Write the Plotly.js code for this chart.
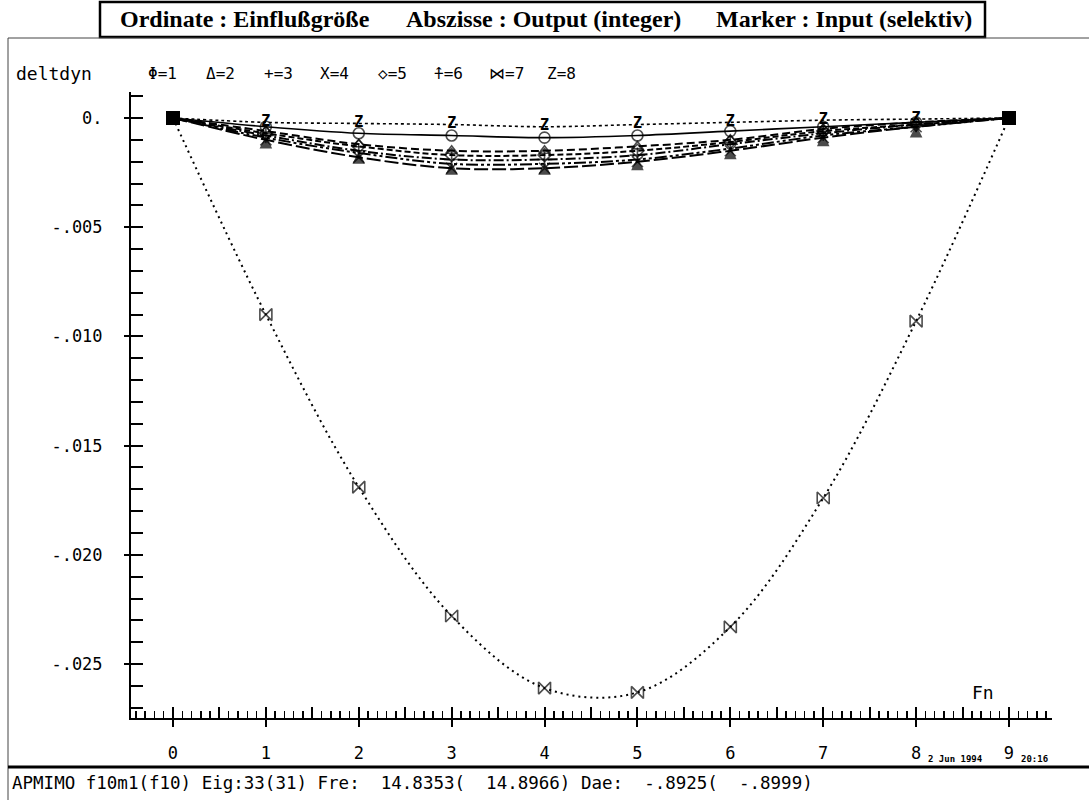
<!DOCTYPE html>
<html>
<head>
<meta charset="utf-8">
<script src="https://cdn.plot.ly/plotly-3.0.1.min.js"></script>
<style>html,body{margin:0;padding:0;background:#fff;}</style>
</head>
<body>
<div id="chart" style="width:1089px;height:800px;"></div>
<script>
// ---- data ----
const outputs = [0, 1, 2, 3, 4, 5, 6, 7, 8, 9];
const input1 = [0, -0.0004, -0.0007, -0.0008, -0.0009, -0.0008, -0.0006, -0.0004, -0.0002, 0];
const input2 = [0, -0.0006, -0.0012, -0.0015, -0.0015, -0.0013, -0.0010, -0.0005, -0.0002, 0];
const input3 = [0, -0.0008, -0.0015, -0.0019, -0.0019, -0.0017, -0.0012, -0.0007, -0.0003, 0];
const input4 = [0, -0.0010, -0.0018, -0.0023, -0.0023, -0.0020, -0.0015, -0.0009, -0.0004, 0];
const input5 = [0, -0.0007, -0.0013, -0.0017, -0.0017, -0.0015, -0.0011, -0.0006, -0.0003, 0];
const input6 = [0, -0.0009, -0.0016, -0.0021, -0.0021, -0.0019, -0.0014, -0.0008, -0.0004, 0];
const input7 = [0, -0.0090, -0.0169, -0.0228, -0.0261, -0.0263, -0.0233, -0.0174, -0.0093, 0];
const input8 = [0, -0.0002, -0.00025, -0.0003, -0.0004, -0.0003, -0.0002, -0.0001, -0.00005, 0];
const yTickVals = [0, -0.005, -0.010, -0.015, -0.020, -0.025];
const yTickText = ['0.', '-.005', '-.010', '-.015', '-.020', '-.025'];
const xTickVals = [0, 1, 2, 3, 4, 5, 6, 7, 8, 9];
const legendItems = ['Φ=1', 'Δ=2', '+=3', 'X=4', '◇=5', '⍏=6', '⋈=7', 'Z=8'];
const titleParts = ['Ordinate : Einflußgröße', 'Abszisse : Output (integer)', 'Marker : Input (selektiv)'];
const footerText = 'APMIMO f10m1(f10) Eig:33(31) Fre:  14.8353(  14.8966) Dae:  -.8925(  -.8999)';

// ---- geometry helpers (pixel -> paper) ----
const L = 131, R = 1052, T = 92, B = 718;
const px = v => (v - L) / (R - L);
const py = v => (B - v) / (B - T);
const MONO = 'DejaVu Sans Mono, monospace';
const nb = s => s.replace(/ /g, '\u00a0');

function series(y, symbol, dash, size, width, textGlyph) {
  const n = y.length;
  const sym = y.map((_, i) => (i === 0 || i === n - 1) ? 'square' : symbol);
  const sz = y.map((_, i) => (i === 0 || i === n - 1) ? 12 : (textGlyph ? 0 : size));
  const tr = {
    x: outputs, y: y, type: 'scatter',
    mode: textGlyph ? 'lines+markers+text' : 'lines+markers',
    line: {color: 'black', width: width, dash: dash, shape: 'spline', smoothing: 1},
    marker: {symbol: sym, size: sz, color: 'black', line: {color: 'black', width: 1.6}},
    showlegend: false, hoverinfo: 'skip', cliponaxis: false
  };
  if (textGlyph) {
    tr.text = y.map((_, i) => (i === 0 || i === n - 1) ? '' : textGlyph);
    tr.textposition = 'middle center';
    tr.textfont = {family: MONO, size: 15, color: 'black', weight: 'bold'};
  }
  return tr;
}

const traces = [
  series(input8, 'circle', '3px,3px', 8, 1.6, 'Z'),
  series(input1, 'circle-open', 'solid', 11, 1.6),
  series(input2, 'triangle-up-open', '8px,4px', 10, 2),
  series(input5, 'diamond-open', '6px,3px', 10, 2),
  series(input3, 'cross-thin-open', '10px,3px,2px,3px', 11, 2),
  series(input6, 'arrow-up', '12px,3px,3px,3px,3px,3px', 10, 2),
  series(input4, 'x-thin-open', '14px,4px', 11, 2),
  series(input7, 'bowtie-open', '2px,4px', 12, 2)
];

const fontTick = {family: MONO, size: 17, color: 'black'};

const annotations = [];
const titleLefts = [118, 404, 714];
titleParts.forEach((t, i) => annotations.push({
  xref: 'paper', yref: 'paper', x: px(titleLefts[i]), y: py(19), xanchor: 'left', yanchor: 'middle',
  text: t, showarrow: false,
  font: {family: 'Liberation Serif, serif', size: 24, color: 'black', weight: 'bold'}
}));
annotations.push({xref: 'paper', yref: 'paper', x: px(14), y: py(73), xanchor: 'left', yanchor: 'middle',
  text: 'deltdyn', showarrow: false, font: {family: MONO, size: 18, color: 'black'}});
const legendLefts = [146, 204, 262, 318, 376, 432, 487, 545];
legendItems.forEach((t, i) => annotations.push({
  xref: 'paper', yref: 'paper', x: px(legendLefts[i]), y: py(73), xanchor: 'left', yanchor: 'middle',
  text: t, showarrow: false, font: {family: MONO, size: 16, color: 'black'}
}));
annotations.push(
  {xref: 'paper', yref: 'paper', x: px(983), y: py(692), xanchor: 'center', yanchor: 'middle',
   text: 'Fn', showarrow: false, font: {family: MONO, size: 18, color: 'black'}},
  {xref: 'paper', yref: 'paper', x: px(955), y: py(759), xanchor: 'center', yanchor: 'middle',
   text: '2 Jun 1994', showarrow: false, font: {family: MONO, size: 9, color: 'black', weight: 'bold'}},
  {xref: 'paper', yref: 'paper', x: px(1034), y: py(759), xanchor: 'center', yanchor: 'middle',
   text: '20:16', showarrow: false, font: {family: MONO, size: 9, color: 'black', weight: 'bold'}},
  {xref: 'paper', yref: 'paper', x: px(10), y: py(783), xanchor: 'left', yanchor: 'middle',
   text: nb(footerText), showarrow: false, font: {family: MONO, size: 17.5, color: 'black'}}
);

const layout = {
  width: 1089, height: 800,
  margin: {l: L, r: 1089 - R, t: T, b: 800 - B, pad: 0},
  paper_bgcolor: 'white', plot_bgcolor: 'white',
  xaxis: {
    range: [-0.452, 9.463], tickmode: 'array', tickvals: xTickVals,
    ticktext: xTickVals.map(String),
    ticks: 'outside', ticklen: 7, tickwidth: 2, tickcolor: 'black',
    minor: {dtick: 0.5, tick0: 0, ticks: 'inside', ticklen: 11, tickwidth: 2, tickcolor: 'black'},
    showline: true, linecolor: 'black', linewidth: 2,
    showgrid: false, zeroline: false, tickfont: fontTick, ticklabelstandoff: 12,
    fixedrange: true
  },
  xaxis2: {
    overlaying: 'x', range: [-0.452, 9.463], tickmode: 'linear', tick0: 0, dtick: 0.1,
    ticks: 'inside', ticklen: 7, tickwidth: 1.5, tickcolor: 'black',
    showticklabels: false, showline: false, showgrid: false, zeroline: false, side: 'bottom'
  },
  yaxis: {
    range: [-0.02747, 0.00119], tickmode: 'array', tickvals: yTickVals, ticktext: yTickText,
    ticks: 'outside', ticklen: 5, tickwidth: 2, tickcolor: 'black',
    showline: true, linecolor: 'black', linewidth: 2,
    showgrid: false, zeroline: false, tickfont: fontTick, ticklabelstandoff: 18,
    fixedrange: true
  },
  yaxis2: {
    overlaying: 'y', range: [-0.02747, 0.00119], tickmode: 'linear', tick0: 0, dtick: 0.001,
    ticks: 'inside', ticklen: 12, tickwidth: 2, tickcolor: 'black',
    showticklabels: false, showline: false, showgrid: false, zeroline: false, side: 'left'
  },
  shapes: [
    {type: 'rect', xref: 'paper', yref: 'paper', x0: px(100), x1: px(985), y0: py(37), y1: py(2),
     line: {color: 'black', width: 2.5}},
    {type: 'line', xref: 'paper', yref: 'paper', x0: px(8), x1: px(1089), y0: py(38), y1: py(38),
     line: {color: '#444', width: 1}},
    {type: 'line', xref: 'paper', yref: 'paper', x0: px(8), x1: px(8), y0: py(38), y1: py(800),
     line: {color: '#444', width: 1}},
    {type: 'line', xref: 'paper', yref: 'paper', x0: px(8), x1: px(1089), y0: py(767), y1: py(767),
     line: {color: 'black', width: 3}}
  ],
  annotations: annotations
};

traces.push({x: [], y: [], xaxis: 'x2', yaxis: 'y2', type: 'scatter', mode: 'markers', showlegend: false, hoverinfo: 'skip'});

Plotly.newPlot('chart', traces, layout, {displayModeBar: false, staticPlot: true});
</script>
</body>
</html>
